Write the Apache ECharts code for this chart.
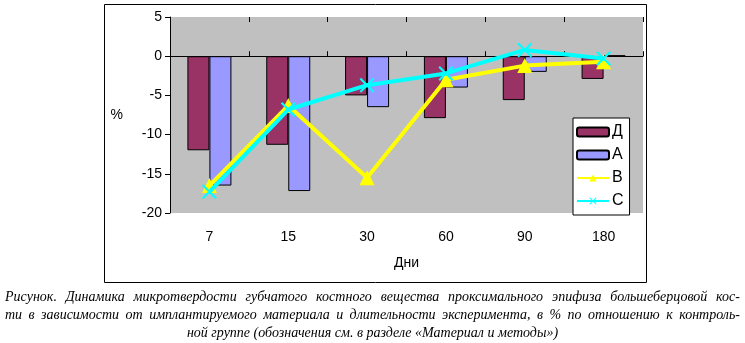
<!DOCTYPE html>
<html><head><meta charset="utf-8">
<script src="https://cdn.jsdelivr.net/npm/echarts@6/dist/echarts.min.js"></script>
<style>html,body{margin:0;padding:0;background:#fff}#c{width:745px;height:343px}</style>
</head><body><div id="c"></div>
<script>
const categories = ['7','15','30','60','90','180'];
const seriesD = [-12, -11.3, -5, -7.9, -5.6, -2.9];
const seriesA = [-16.5, -17.2, -6.5, -4, -2, 0.1];
const seriesB = [-16.5, -6.3, -15.5, -3, -1.2, -0.7];
const seriesC = [-17.3, -6.8, -3.7, -2.2, 0.8, -0.3];
const yTicks = [5, 0, -5, -10, -15, -20];
const captionLines = [
  'Рисунок. Динамика микротвердости губчатого костного вещества проксимального эпифиза большеберцовой кос-',
  'ти в зависимости от имплантируемого материала и длительности эксперимента, в % по отношению к контроль-',
  'ной группе (обозначения см. в разделе «Материал и методы»)'
];

const xSym = 'path://M0,1L1,0L5,4L9,0L10,1L6,5L10,9L9,10L5,6L1,10L0,9L4,5Z';
const font = 'Liberation Sans, Arial, sans-serif';
const capFont = 'italic 14px "Liberation Serif", serif';

// justified caption lines built as word elements
const ctx = document.createElement('canvas').getContext('2d');
ctx.font = capFont;
const capLeft = 5, capRight = 740;
const capTops = [290, 308, 326];
const captionGraphics = [];
captionLines.forEach((line, i) => {
  if (i < captionLines.length - 1) {
    const words = line.split(' ');
    const widths = words.map(w => ctx.measureText(w).width);
    const total = widths.reduce((a, b) => a + b, 0);
    const gap = (capRight - capLeft - total) / (words.length - 1);
    let x = capLeft;
    words.forEach((w, k) => {
      captionGraphics.push({type: 'text', x: x, y: capTops[i], style: {text: w, font: capFont, fill: '#000'}, silent: true});
      x += widths[k] + gap;
    });
  } else {
    captionGraphics.push({type: 'text', left: 'center', top: capTops[i], style: {text: line, font: capFont, fill: '#000'}, silent: true});
  }
});

const chart = echarts.init(document.getElementById('c'), null, {renderer: 'canvas'});
chart.setOption({
  animation: false,
  textStyle: {fontFamily: font},
  grid: {left: 170, right: 102, top: 17, bottom: 130, show: true, backgroundColor: '#c0c0c0', borderWidth: 0},
  legend: {
    orient: 'vertical', left: 573, top: 118, itemWidth: 32, itemHeight: 9, itemGap: 7,
    backgroundColor: '#fff', borderColor: '#000', borderWidth: 1, padding: [6, 6, 6, 3],
    textStyle: {fontSize: 16, color: '#000', fontFamily: font, padding: [0,0,0,-2]},
    data: ['Д', 'A', 'B', 'C']
  },
  xAxis: [
    {type: 'category', data: categories, position: 'bottom', axisLine: {onZero: false, show: false},
     axisTick: {show: false}, axisLabel: {fontSize: 14, color: '#000', margin: 17},
     name: 'Дни', nameLocation: 'middle', nameGap: 43, nameTextStyle: {fontSize: 14, color: '#000'}},
    {type: 'category', data: categories, axisLine: {onZero: true, lineStyle: {color: '#000', width: 1}},
     axisTick: {show: true, length: 5, lineStyle: {color: '#000'}}, axisLabel: {show: false}},
    {type: 'category', data: categories, axisLine: {onZero: true, show: false},
     axisTick: {show: true, inside: true, length: 5, lineStyle: {color: '#000'}}, axisLabel: {show: false}}
  ],
  yAxis: {
    type: 'value', min: -20, max: 5, interval: 5, splitLine: {show: false},
    axisLine: {show: true, lineStyle: {color: '#000'}}, axisTick: {show: true, length: 5, lineStyle: {color: '#000'}},
    axisLabel: {fontSize: 14, color: '#000', margin: 8, formatter: v => yTicks.includes(v) ? String(v) : ''},
    name: '%', nameLocation: 'middle', nameRotate: 0, nameGap: 47, nameTextStyle: {fontSize: 14, color: '#000'}
  },
  series: [
    {name: 'Д', type: 'bar', data: seriesD, barWidth: 22, barGap: '0%', itemStyle: {color: '#993366', borderColor: '#000', borderWidth: 1}},
    {name: 'A', type: 'bar', data: seriesA, barWidth: 22, barGap: '0%', itemStyle: {color: '#9999ff', borderColor: '#000', borderWidth: 1}},
    {name: 'B', type: 'line', data: seriesB, symbol: 'triangle', symbolSize: 15, lineStyle: {color: '#ffff00', width: 4}, itemStyle: {color: '#ffff00'}, z: 5},
    {name: 'C', type: 'line', data: seriesC, symbol: xSym, symbolSize: 15, lineStyle: {color: '#00ffff', width: 4}, itemStyle: {color: '#00ffff'}, z: 6}
  ],
  graphic: [
    {type: 'rect', shape: {x: 104.5, y: 4.5, width: 542, height: 278}, style: {fill: 'none', stroke: '#000', lineWidth: 1}, z: -10, silent: true}
  ].concat(captionGraphics)
});
</script></body></html>
